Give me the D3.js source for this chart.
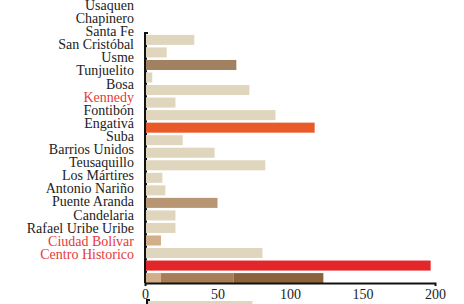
<!DOCTYPE html>
<html>
<head>
  <meta charset="utf-8">
  <title>Localidades</title>
  <script src="https://cdnjs.cloudflare.com/ajax/libs/d3/7.8.5/d3.min.js"></script>
</head>
<body style="margin:0;background:#fff">
  <div id="vis"></div>
  <script>
var w = 464, h = 304;
var fuente = "'Liberation Serif', 'Times New Roman', serif";

var localidades = ['Usaquen', 'Chapinero', 'Santa Fe', 'San Cristóbal', 'Usme',
  'Tunjuelito', 'Bosa', 'Kennedy', 'Fontibón', 'Engativá', 'Suba', 'Barrios Unidos',
  'Teusaquillo', 'Los Mártires', 'Antonio Nariño', 'Puente Aranda', 'Candelaria',
  'Rafael Uribe Uribe', 'Ciudad Bolívar', 'Centro Historico'];
var destacadas = ['Kennedy', 'Ciudad Bolívar', 'Centro Historico'];

// una fila por barra (la ultima es apilada)
var valores = [34, 15, 63, 5, 72, 21, 90, 117, 26, 48, 83, 12, 14, 50, 21, 21, 11, 81, 197];
var apilada = [11, 50, 62];
var ticksX = [0, 50, 100, 150, 200];
var ticksArriba = [0, 50, 100, 150, 200, 250, 300];
var siguiente = [72];

var colores = ['#e0d6be', '#e0d6be', '#a28161', '#e0d6be', '#e0d6be', '#e0d6be', '#e0d6be',
  '#e95a29', '#e0d6be', '#e0d6be', '#e0d6be', '#e0d6be', '#e0d6be', '#b89573', '#e0d6be',
  '#e0d6be', '#d2af89', '#e0d6be', '#e3262a'];
var coloresApilada = ['#d3af89', '#a57e57', '#8c623b'];

var svg = d3.select("div#vis").append("svg")
  .attr("width", w)
  .attr("height", h)
  .style("display", "block");

var x = d3.scaleLinear().domain([0, 200]).range([145, 435]);
var filas = d3.range(valores.length + 1);
var y = d3.scaleBand().domain(filas).range([33, 285]).paddingInner(0.2).paddingOuter(0.15);
var yLab = d3.scalePoint().domain(localidades).range([5, 254]);

// eje de un grafico anterior, cortado arriba
var xArriba = d3.scaleLinear().domain([0, 300]).range([145, 435]);
svg.selectAll("text.arriba").data(ticksArriba).enter()
  .append("text")
  .attr("class", "arriba")
  .attr("x", function(d) { return xArriba(d); })
  .attr("y", 0.4)
  .attr("text-anchor", "middle")
  .style("font-family", fuente)
  .style("font-size", "13.5px")
  .style("fill", "#888")
  .text(function(d) { return d; });

svg.selectAll("text.localidad").data(localidades).enter()
  .append("text")
  .attr("class", "localidad")
  .attr("x", 134)
  .attr("y", function(d) { return yLab(d); })
  .attr("dy", "0.35em")
  .attr("text-anchor", "end")
  .style("font-family", fuente)
  .style("font-size", "14px")
  .style("fill", function(d) { return destacadas.indexOf(d) >= 0 ? "#e63a3a" : "#222"; })
  .text(function(d) { return d; });

svg.selectAll("rect.barra").data(valores).enter()
  .append("rect")
  .attr("class", "barra")
  .attr("x", x(0))
  .attr("y", function(d, i) { return y(i); })
  .attr("width", function(d) { return x(d) - x(0); })
  .attr("height", y.bandwidth())
  .style("fill", function(d, i) { return colores[i]; });

var acumulado = d3.cumsum(apilada);
svg.selectAll("rect.apilada").data(apilada).enter()
  .append("rect")
  .attr("class", "apilada")
  .attr("x", function(d, i) { return x(acumulado[i] - d); })
  .attr("y", y(valores.length))
  .attr("width", function(d) { return x(d) - x(0); })
  .attr("height", y.bandwidth())
  .style("fill", function(d, i) { return coloresApilada[i]; });

// eje y
var ejeY = svg.append("g");
ejeY.append("path")
  .attr("d", "M148,33H145V283")
  .style("fill", "none")
  .style("stroke", "#111")
  .style("stroke-width", 2);
ejeY.selectAll("line").data(filas.slice(1)).enter()
  .append("line")
  .attr("x1", 144)
  .attr("x2", 147)
  .attr("y1", function(d) { return y(d) - (y.step() - y.bandwidth()) / 2; })
  .attr("y2", function(d) { return y(d) - (y.step() - y.bandwidth()) / 2; })
  .style("stroke", "#111")
  .style("stroke-width", 2);

var ejeX = svg.append("g")
  .attr("transform", "translate(0,283)")
  .call(d3.axisBottom(x).tickValues(ticksX).tickSize(3).tickSizeOuter(3).tickPadding(3));
ejeX.select(".domain").style("stroke", "#111").style("stroke-width", 2);
ejeX.selectAll(".tick line").remove();
ejeX.selectAll("text")
  .style("font-family", fuente)
  .style("font-size", "14px")
  .style("fill", "#222");

// comienzo del grafico siguiente
var x2 = d3.scaleLinear().domain([0, 200]).range([148, 438]);
svg.selectAll("rect.siguiente").data(siguiente).enter()
  .append("rect")
  .attr("class", "siguiente")
  .attr("x", x2(0))
  .attr("y", 301)
  .attr("width", function(d) { return x2(d) - x2(0); })
  .attr("height", 10)
  .style("fill", "#e0d6be");
svg.append("path")
  .attr("d", "M150,300H147V310")
  .style("fill", "none")
  .style("stroke", "#111")
  .style("stroke-width", 2);
  </script>
</body>
</html>
